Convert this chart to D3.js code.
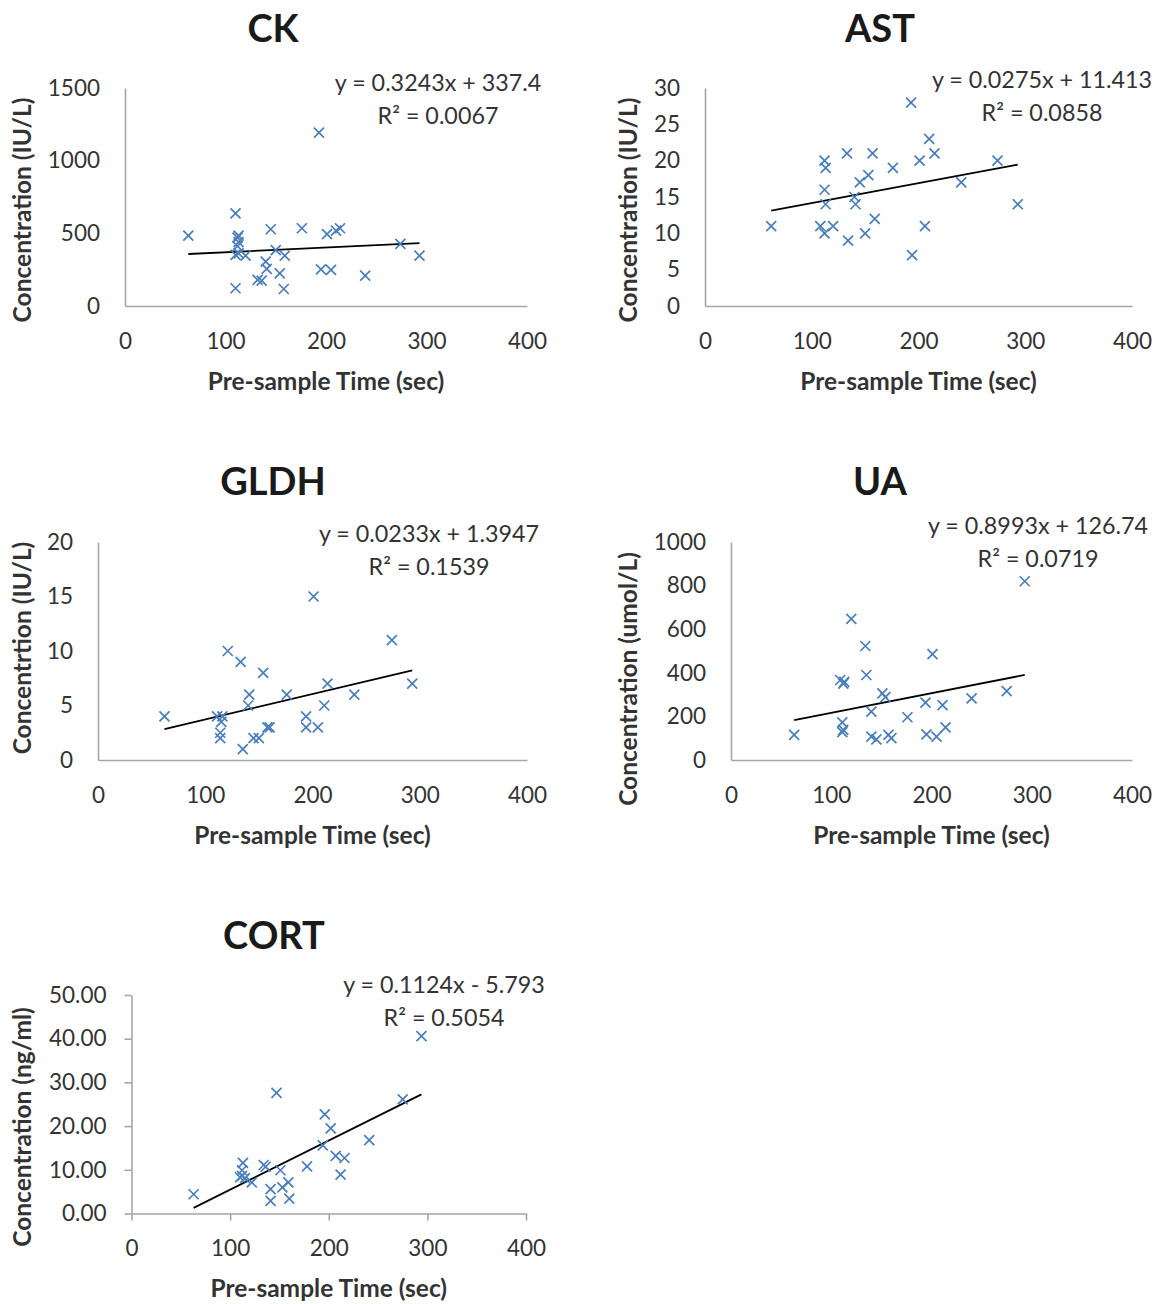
<!DOCTYPE html>
<html>
<head>
<meta charset="utf-8">
<script src="https://cdn.jsdelivr.net/npm/d3@7"></script>
<style>
  html, body { margin: 0; padding: 0; background: #fff; }
  svg text { font-family: Lato, "Open Sans", sans-serif; }
</style>
</head>
<body>
<svg id="chart" width="1162" height="1304"></svg>
<script>
// ---------------- DATA ----------------
const panelNames = ["CK", "AST", "GLDH", "UA", "CORT"];
const yAxisTitles = ["Concentration (IU/L)", "Concentration (IU/L)", "Concentrtion (IU/L)", "Concentration (umol/L)", "Concentration (ng/ml)"];
const xAxisTitle = "Pre-sample Time (sec)";
const xTickValues = [0, 100, 200, 300, 400];

const ckTicks = [0, 500, 1000, 1500];
const astTicks = [0, 5, 10, 15, 20, 25, 30];
const gldhTicks = [0, 5, 10, 15, 20];
const uaTicks = [0, 200, 400, 600, 800, 1000];
const cortTicks = [0, 10, 20, 30, 40, 50];

const trendSlopes = [0.3243, 0.0275, 0.0233, 0.8993, 0.1124];
const trendIntercepts = [337.4, 11.413, 1.3947, 126.74, -5.793];
const equationTexts = ["y = 0.3243x + 337.4", "y = 0.0275x + 11.413", "y = 0.0233x + 1.3947", "y = 0.8993x + 126.74", "y = 0.1124x - 5.793"];
const rSquaredTexts = ["R² = 0.0067", "R² = 0.0858", "R² = 0.1539", "R² = 0.0719", "R² = 0.5054"];

const ckTime  = [63, 193, 110, 113, 112, 113, 112, 145, 176, 201, 210, 214, 274, 293, 150, 159, 120, 113, 110, 140, 141, 132, 136, 154, 158, 110, 195, 205, 239];
const ckValue = [484, 1193, 638, 484, 470, 440, 412, 528, 535, 495, 518, 535, 427, 346, 385, 346, 346, 362, 352, 305, 255, 180, 174, 225, 117, 122, 252, 248, 209];

const astTime  = [62, 193, 210, 133, 157, 215, 112, 113, 201, 274, 176, 153, 145, 240, 112, 140, 113, 141, 293, 159, 108, 120, 206, 112, 150, 134, 194];
const astValue = [11, 28, 23, 21, 21, 21, 20, 19, 20, 20, 19, 18, 17, 17, 16, 15, 14, 14, 14, 12, 11, 11, 11, 10, 10, 9, 7];

const gldhTime  = [62, 201, 274, 121, 133, 154, 214, 293, 141, 176, 239, 140, 211, 111, 116, 115, 114, 114, 194, 194, 205, 158, 160, 145, 150, 135];
const gldhValue = [4, 15, 11, 10, 9, 8, 7, 7, 6, 6, 6, 5, 5, 4, 4, 3.5, 2.5, 2, 4, 3, 3, 3, 3, 2, 2, 1];

const uaTime  = [63, 293, 120, 134, 201, 135, 109, 113, 112, 151, 154, 275, 240, 194, 211, 140, 176, 111, 112, 111, 214, 195, 205, 140, 145, 157, 160];
const uaValue = [115, 820, 647, 523, 486, 390, 367, 358, 350, 306, 288, 316, 283, 263, 252, 222, 196, 173, 138, 128, 150, 118, 107, 107, 95, 115, 100];

const cortTime  = [63, 294, 147, 275, 196, 202, 241, 194, 207, 216, 113, 134, 136, 178, 151, 112, 110, 112, 115, 212, 122, 159, 153, 141, 160, 141];
const cortValue = [4.4, 40.6, 27.6, 26.1, 22.7, 19.5, 16.8, 15.6, 13.2, 12.7, 11.6, 11.1, 10.7, 10.8, 9.9, 9.9, 8.3, 8.6, 8.1, 8.9, 7.1, 7.1, 6.0, 5.6, 3.4, 2.9];

// ---------------- LAYOUT ----------------
const panels = [
  { time: ckTime, value: ckValue, ticks: ckTicks, fmt: d3.format("d"),
    box: { l: 125, r: 527, t: 88, b: 306 }, titleX: 273, titleY: 42, yTitleX: 22, yTitleY: 210,
    eqX: 438, eqY: 83, tickMarks: false },
  { time: astTime, value: astValue, ticks: astTicks, fmt: d3.format("d"),
    box: { l: 705, r: 1132, t: 88, b: 306 }, titleX: 880, titleY: 42, yTitleX: 628, yTitleY: 210,
    eqX: 1042, eqY: 80, tickMarks: false },
  { time: gldhTime, value: gldhValue, ticks: gldhTicks, fmt: d3.format("d"),
    box: { l: 98, r: 527, t: 542, b: 760 }, titleX: 273, titleY: 495, yTitleX: 22, yTitleY: 648,
    eqX: 429, eqY: 534, tickMarks: false },
  { time: uaTime, value: uaValue, ticks: uaTicks, fmt: d3.format("d"),
    box: { l: 731, r: 1132, t: 542, b: 760 }, titleX: 880, titleY: 495, yTitleX: 628, yTitleY: 679,
    eqX: 1038, eqY: 526, tickMarks: false },
  { time: cortTime, value: cortValue, ticks: cortTicks, fmt: d3.format(".2f"),
    box: { l: 131.5, r: 526, t: 995, b: 1213.5 }, titleX: 274, titleY: 949, yTitleX: 22, yTitleY: 1127,
    eqX: 444, eqY: 985, tickMarks: true }
];

const svg = d3.select("#chart");
const axisColor = "#a6a6a6";
const markerColor = "#4a7ebb";
const textColor = "#333333";
const ms = 5;

panels.forEach((p, i) => {
  const g = svg.append("g");
  const x = d3.scaleLinear().domain([0, 400]).range([p.box.l, p.box.r]);
  const yMax = p.ticks[p.ticks.length - 1];
  const y = d3.scaleLinear().domain([0, yMax]).range([p.box.b, p.box.t]);
  const tickLen = p.tickMarks ? 7 : 0;

  // Y axis
  const ya = g.append("g").attr("transform", `translate(${p.box.l},0)`)
    .call(d3.axisLeft(y).tickValues(p.ticks).tickFormat(p.fmt).tickSizeInner(tickLen).tickSizeOuter(0).tickPadding(25 - tickLen));
  // X axis
  const xa = g.append("g").attr("transform", `translate(0,${p.box.b})`)
    .call(d3.axisBottom(x).tickValues(xTickValues).tickFormat(d3.format("d")).tickSizeInner(tickLen).tickSizeOuter(0).tickPadding(27 - tickLen));

  [ya, xa].forEach(a => {
    a.select(".domain").attr("stroke", axisColor).attr("stroke-width", 1.6);
    a.selectAll(".tick line").attr("stroke", axisColor).attr("stroke-width", 1.6);
    a.selectAll(".tick text").attr("fill", textColor).style("font-size", "22.5px");
  });

  // Title
  g.append("text").attr("x", p.titleX).attr("y", p.titleY).attr("text-anchor", "middle")
    .style("font-size", "38px").style("font-weight", 700).attr("fill", "#1a1a1a").text(panelNames[i]);

  // Axis titles
  g.append("text").attr("x", (p.box.l + p.box.r) / 2).attr("y", p.box.b + 75).attr("dy", "0.36em")
    .attr("text-anchor", "middle").style("font-size", "24.5px").style("font-weight", 700).attr("fill", textColor)
    .text(xAxisTitle);
  g.append("text").attr("transform", `translate(${p.yTitleX},${p.yTitleY}) rotate(-90)`).attr("dy", "0.36em")
    .attr("text-anchor", "middle").style("font-size", "24.5px").style("font-weight", 700).attr("fill", textColor)
    .text(yAxisTitles[i]);

  // Trend line
  const xs = d3.extent(p.time);
  g.append("line")
    .attr("x1", x(xs[0])).attr("y1", y(trendSlopes[i] * xs[0] + trendIntercepts[i]))
    .attr("x2", x(xs[1])).attr("y2", y(trendSlopes[i] * xs[1] + trendIntercepts[i]))
    .attr("stroke", "#000").attr("stroke-width", 1.8);

  // Markers
  g.append("g").selectAll("path").data(p.time.map((t, k) => [t, p.value[k]])).join("path")
    .attr("d", d => {
      const cx = x(d[0]), cy = y(d[1]);
      return `M${cx - ms},${cy - ms}L${cx + ms},${cy + ms}M${cx - ms},${cy + ms}L${cx + ms},${cy - ms}`;
    })
    .attr("stroke", markerColor).attr("stroke-width", 1.7).attr("fill", "none");

  // Equation
  g.append("text").attr("x", p.eqX).attr("y", p.eqY).attr("dy", "0.36em").attr("text-anchor", "middle")
    .style("font-size", "23.3px").attr("fill", textColor).text(equationTexts[i]);
  g.append("text").attr("x", p.eqX).attr("y", p.eqY + 33).attr("dy", "0.36em").attr("text-anchor", "middle")
    .style("font-size", "23.3px").attr("fill", textColor).text(rSquaredTexts[i]);
});
</script>
</body>
</html>
